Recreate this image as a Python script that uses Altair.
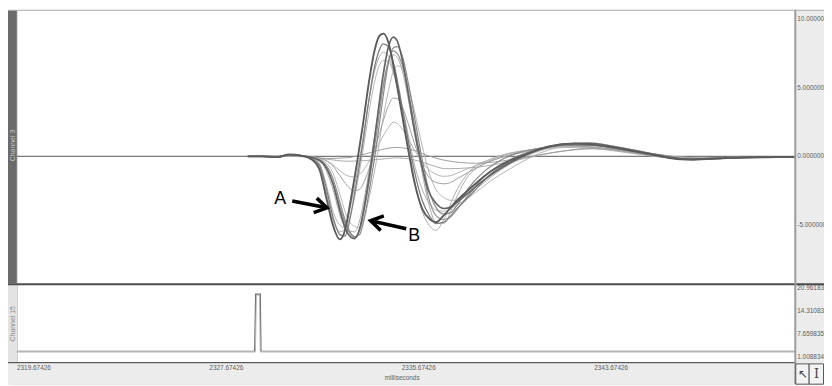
import altair as alt
import pandas as pd

# ---------------- axis ticks and labels ----------------
x_ticks = [2319.67426, 2327.67426, 2335.67426, 2343.67426]
x_tick_labels = ["2319.67426", "2327.67426", "2335.67426", "2343.67426"]
x_title = "milliseconds"
top_ticks = [10, 5, 0, -5]
top_tick_labels = ["10.000000", "5.000000", "0.000000", "-5.000000"]
bot_ticks = [20.961831, 14.310836, 7.659835, 1.008834]
bot_tick_labels = ["20.961831", "14.310836", "7.659835", "1.008834"]
top_channel = "Channel 3"
bot_channel = "Channel 15"

# ---------------- Channel 3 sweeps (ms, mV-like units) ----------------
time_a = [2329.27, 2329.88, 2330.51, 2331.00, 2331.49, 2331.91, 2332.24, 2332.56, 2332.81, 2333.10,
          2333.31, 2333.55, 2333.80, 2334.05, 2334.29, 2334.54, 2334.75, 2334.91, 2335.12, 2335.36,
          2335.61, 2335.94, 2336.19, 2336.52, 2336.85, 2337.09, 2337.42, 2337.92, 2338.54, 2339.36,
          2340.18, 2340.88, 2341.83, 2342.86, 2343.88, 2345.12, 2346.23, 2347.38, 2348.62, 2350.35,
          2352.03]
trace_a1 = [0, 0, -0.05, 0.15, 0.05, -0.2, -0.9, -3.2, -5.0, -6.05, -5.4, -3.2, -0.6, 2.2, 5.2, 7.7,
            8.8, 8.95, 8.3, 6.3, 3.8, 0.5, -1.8, -3.8, -4.6, -4.8, -4.3, -3.3, -2.3, -1.1, -0.3, 0.2,
            0.75, 0.95, 0.8, 0.45, 0.08, -0.22, -0.15, -0.05, -0.05]
trace_a2 = [0, 0, -0.05, 0.12, 0.05, -0.15, -0.6, -2.5, -4.4, -5.7, -5.8, -4.3, -1.8, 0.9, 3.9, 6.5,
            7.8, 8.2, 8.0, 6.6, 4.4, 1.2, -1.0, -3.2, -4.4, -4.9, -4.8, -3.9, -2.8, -1.3, -0.4, 0.15,
            0.7, 0.9, 0.8, 0.45, 0.1, -0.2, -0.15, -0.05, -0.05]
trace_a3 = [0, 0, 0, 0.1, 0.05, -0.15, -0.7, -2.8, -4.6, -5.5, -5.3, -3.6, -1.3, 1.2, 3.9, 6.2,
            7.3, 7.6, 7.3, 6.0, 4.0, 1.0, -1.6, -4.0, -5.1, -5.4, -4.6, -2.6, -1.0, -0.2, 0.25, 0.45,
            0.65, 0.7, 0.6, 0.35, 0.05, -0.15, -0.1, -0.05, -0.05]
trace_a4 = [0, 0, -0.03, 0.1, 0.03, -0.1, -0.5, -2.2, -4.0, -5.0, -5.2, -4.2, -2.2, 0.3, 3.0, 5.4,
            6.7, 7.0, 6.9, 5.9, 4.2, 1.6, -0.5, -2.4, -3.5, -3.9, -4.0, -3.6, -2.9, -1.8, -0.9, -0.2,
            0.5, 0.8, 0.85, 0.55, 0.15, -0.15, -0.15, -0.05, -0.05]

time_b = [2329.27, 2329.89, 2330.51, 2331.00, 2331.49, 2331.99, 2332.40, 2332.81, 2333.14, 2333.39,
          2333.71, 2333.92, 2334.12, 2334.37, 2334.62, 2334.87, 2335.12, 2335.32, 2335.49, 2335.70,
          2335.94, 2336.19, 2336.52, 2336.76, 2337.09, 2337.42, 2337.71, 2338.00, 2338.41, 2339.03,
          2339.77, 2340.59, 2341.41, 2342.44, 2343.47, 2344.50, 2345.73, 2346.76, 2347.79, 2349.02,
          2350.35, 2352.03]
trace_b1 = [0, 0, -0.05, 0.12, 0.05, -0.1, -0.5, -2.0, -4.2, -5.5, -6.0, -5.3, -3.6, -0.9, 2.3, 5.6,
            8.0, 8.7, 8.4, 7.0, 4.6, 2.0, -0.8, -2.4, -3.4, -3.8, -3.7, -3.3, -2.7, -1.8, -0.9, -0.1,
            0.5, 0.9, 0.95, 0.7, 0.3, -0.05, -0.25, -0.15, -0.05, -0.05]
trace_b2 = [0, 0, -0.05, 0.1, 0.05, -0.1, -0.4, -1.6, -3.6, -5.0, -5.85, -5.7, -4.5, -2.0, 0.8, 4.0,
            6.8, 7.9, 8.0, 7.3, 5.4, 3.0, -0.2, -2.2, -3.7, -4.2, -4.1, -3.5, -2.4, -1.2, -0.3, 0.3,
            0.6, 0.8, 0.8, 0.6, 0.25, -0.05, -0.2, -0.15, -0.05, -0.05]
trace_b3 = [0, 0, -0.03, 0.1, 0.04, -0.1, -0.6, -2.4, -4.5, -5.4, -5.5, -4.7, -3.0, -0.5, 2.4, 5.0,
            6.9, 7.4, 7.2, 6.2, 4.2, 1.8, -1.2, -3.2, -4.8, -4.9, -4.0, -2.8, -1.5, -0.6, 0.0, 0.35,
            0.55, 0.7, 0.7, 0.5, 0.2, -0.1, -0.2, -0.1, -0.05, -0.05]
trace_b4 = [0, 0, 0, 0.08, 0.03, -0.05, -0.3, -1.2, -3.0, -4.4, -5.1, -5.2, -4.4, -2.6, -0.3, 2.5,
            4.8, 6.2, 6.6, 6.4, 5.2, 3.4, 0.8, -0.9, -2.4, -3.0, -3.2, -3.2, -2.8, -2.0, -1.0, -0.2,
            0.4, 0.85, 1.0, 0.75, 0.3, 0.0, -0.2, -0.15, -0.05, -0.05]
trace_b5 = [0, 0, -0.05, 0.12, 0.05, -0.12, -0.5, -1.9, -3.9, -5.2, -5.9, -5.4, -3.9, -1.3, 1.6, 4.7,
            7.0, 7.7, 7.5, 6.6, 4.8, 2.4, -0.7, -2.8, -4.3, -4.6, -4.4, -3.8, -2.9, -1.6, -0.6, 0.1,
            0.55, 0.85, 0.85, 0.6, 0.2, -0.1, -0.2, -0.1, -0.05, -0.05]
trace_m1 = [0, 0, 0, 0.05, 0.02, -0.05, -0.2, -0.7, -1.5, -2.1, -2.5, -2.4, -1.8, -0.6, 0.9, 2.4,
            3.7, 4.25, 4.2, 3.6, 2.4, 1.0, -0.6, -1.4, -1.9, -2.0, -1.9, -1.6, -1.2, -0.6, -0.1, 0.3,
            0.6, 0.8, 0.7, 0.45, 0.15, -0.1, -0.15, -0.1, -0.05, -0.05]
trace_m2 = [0, 0, 0, 0.05, 0.02, -0.05, -0.2, -0.6, -1.1, -1.4, -1.5, -1.3, -0.9, -0.2, 0.6, 1.4,
            2.1, 2.5, 2.4, 2.0, 1.3, 0.5, -0.4, -0.9, -1.3, -1.45, -1.4, -1.2, -0.9, -0.5, -0.1, 0.25,
            0.5, 0.65, 0.6, 0.4, 0.1, -0.1, -0.15, -0.1, -0.05, -0.05]

time_f = [2329.27, 2329.89, 2331.33, 2332.56, 2333.39, 2334.21, 2334.83, 2335.45, 2336.06, 2336.68,
          2337.51, 2338.74, 2340.39, 2342.03, 2343.68, 2345.32, 2346.97, 2348.62, 2352.03]
trace_f1 = [0, 0, 0.05, -0.15, -0.1, 0.2, 0.5, 0.65, 0.5, 0.1, -0.3, -0.5, -0.2, 0.3, 0.6, 0.4, 0.0,
            -0.15, -0.05]
trace_f2 = [0, 0, 0, -0.2, -0.35, -0.3, -0.2, -0.1, -0.2, -0.5, -0.9, -0.8, -0.3, 0.3, 0.55, 0.35,
            0.0, -0.15, -0.05]

# ---------------- Channel 15 (stimulus) ----------------
stim_time = [2319.67426, 2329.56, 2329.60, 2329.79, 2329.82, 2352.03]
stim_value = [2.54, 2.54, 19.3, 19.3, 2.54, 2.54]
stim2_time = [2319.67426, 2329.59, 2329.63, 2329.76, 2329.79, 2352.03]
stim2_value = [2.54, 2.54, 19.0, 19.0, 2.54, 2.54]

# ---------------- annotations ----------------
label_text = ["A", "B"]
label_time = [2330.62, 2336.19]
label_value = [-3.10, -5.78]
arrow_from_time = [2331.12, 2335.86]
arrow_from_value = [-3.25, -5.27]
arrow_to_time = [2332.56, 2334.38]
arrow_to_value = [-3.75, -4.69]

# ---------------- styling ----------------
FONT = "Liberation Sans"
LABEL_GREY = "#5e5e5e"
x_scale = alt.Scale(domain=[2319.67426, 2352.033], range=[9, 795], nice=False, zero=False)
y_top = alt.Scale(domain=[-9.242, 10.686], range=[276, 0], nice=False, zero=False)
y_bot = alt.Scale(domain=[-0.64, 21.93], range=[356, 278], nice=False, zero=False)

one = pd.DataFrame({"k": [0]})
layers = []


def rect(x0, x1, y0, y1, fill, stroke=None, sw=0):
    kw = dict(fill=fill)
    if stroke:
        kw.update(stroke=stroke, strokeWidth=sw)
    layers.append(
        alt.Chart(one).mark_rect(**kw).encode(
            x=alt.value(x0), x2=alt.value(x1), y=alt.value(y0), y2=alt.value(y1)
        )
    )


def deco_text(txt, x, y, size, color, angle=0, font=FONT, align="center"):
    kw = dict(text=txt, fontSize=size, color=color, font=font, align=align, baseline="middle")
    if angle:
        kw["angle"] = angle
    layers.append(alt.Chart(one).mark_text(**kw).encode(x=alt.value(x), y=alt.value(y)))


# backgrounds / frame
rect(0, 824, 0, 378, "#ffffff")
rect(795, 824, 0, 357, "#ececec")
rect(0, 795, 357, 378, "#ececec")
rect(0, 824, 0, 1.2, "#bdbdbd")
rect(0, 9, 1, 276, "#6b6b6b")
rect(9, 10, 1, 276, "#d9d9d9")
rect(0, 9, 278, 356, "#e3e3e3")
rect(9, 10, 278, 356, "#cfcfcf")
deco_text(top_channel, 4.8, 137, 7, "#c4c4c4", angle=270)
deco_text(bot_channel, 4.8, 317, 7, "#8a8a8a", angle=270)

# zero reference line of channel 3
zero_df = pd.DataFrame({"t": [2319.67426, 2352.033], "v": [0, 0]})
layers.append(
    alt.Chart(zero_df).mark_line(color="#7a7a7a", strokeWidth=1.4).encode(
        x=alt.X("t:Q", scale=x_scale, axis=None), y=alt.Y("v:Q", scale=y_top, axis=None)
    )
)

traces = [
    (time_a, trace_a3, "#ababab", 1.0),
    (time_a, trace_a4, "#b3b3b3", 1.0),
    (time_b, trace_b3, "#acacac", 1.0),
    (time_b, trace_b4, "#b6b6b6", 1.0),
    (time_b, trace_m2, "#b4b4b4", 1.0),
    (time_f, trace_f2, "#ababab", 1.0),
    (time_f, trace_f1, "#9d9d9d", 1.0),
    (time_b, trace_m1, "#a0a0a0", 1.0),
    (time_b, trace_b5, "#929292", 1.2),
    (time_b, trace_b2, "#888888", 1.2),
    (time_a, trace_a2, "#7f7f7f", 1.3),
    (time_b, trace_b1, "#656565", 1.7),
    (time_a, trace_a1, "#5b5b5b", 1.9),
]
for t, v, col, w in traces:
    df = pd.DataFrame({"t": t, "v": v})
    layers.append(
        alt.Chart(df).mark_line(color=col, strokeWidth=w, interpolate="monotone").encode(
            x=alt.X("t:Q", scale=x_scale, axis=None), y=alt.Y("v:Q", scale=y_top, axis=None)
        )
    )

# stimulus channel
for t, v, col, w in [(stim_time, stim_value, "#6a6a6a", 1.3), (stim2_time, stim2_value, "#b8b8b8", 1.0)]:
    df = pd.DataFrame({"t": t, "v": v})
    layers.append(
        alt.Chart(df).mark_line(color=col, strokeWidth=w).encode(
            x=alt.X("t:Q", scale=x_scale, axis=None), y=alt.Y("v:Q", scale=y_bot, axis=None)
        )
    )

# separators drawn over the plots
rect(0, 824, 276, 278, "#4d4d4d")
rect(0, 795, 355.6, 357, "#5a5a5a")
rect(794, 796, 0, 378, "#9c9c9c")
rect(795.5, 809, 357.5, 378, "#f3f3f3", stroke="#555555", sw=1)
rect(809, 823.5, 357.5, 378, "#f3f3f3", stroke="#555555", sw=1)
deco_text("\u2196", 802.5, 367.5, 12, "#444444", font="DejaVu Sans")
deco_text("I", 816.5, 367.5, 13, "#444444", font="DejaVu Serif")

# annotations A / B
ann = pd.DataFrame({
    "t0": arrow_from_time, "v0": arrow_from_value,
    "t1": arrow_to_time, "v1": arrow_to_value,
})
layers.append(
    alt.Chart(ann).mark_rule(color="black", strokeWidth=3.6, strokeCap="butt").encode(
        x=alt.X("t0:Q", scale=x_scale, axis=None), x2="t1:Q",
        y=alt.Y("v0:Q", scale=y_top, axis=None), y2="v1:Q",
    )
)
chevron = "M -1.6 -1 L 0 0 L -1.6 1"
for i, ang in [(0, 12), (1, 192)]:
    head = pd.DataFrame({"t": [arrow_to_time[i]], "v": [arrow_to_value[i]]})
    layers.append(
        alt.Chart(head).mark_point(shape=chevron, filled=False, stroke="black", strokeWidth=3.6,
                                   size=225, angle=ang, opacity=1, strokeJoin="miter").encode(
            x=alt.X("t:Q", scale=x_scale, axis=None), y=alt.Y("v:Q", scale=y_top, axis=None)
        )
    )
lab = pd.DataFrame({"t": label_time, "v": label_value, "s": label_text})
layers.append(
    alt.Chart(lab).mark_text(font=FONT, fontSize=18, color="black", baseline="middle").encode(
        x=alt.X("t:Q", scale=x_scale, axis=None), y=alt.Y("v:Q", scale=y_top, axis=None), text="s:N"
    )
)

# tick labels
top_lab = pd.DataFrame({"v": top_ticks, "s": top_tick_labels})
layers.append(
    alt.Chart(top_lab).mark_text(font=FONT, fontSize=6.5, color=LABEL_GREY, align="left",
                                 baseline="middle").encode(
        x=alt.value(797), y=alt.Y("v:Q", scale=y_top, axis=None), text="s:N"
    )
)
bot_lab = pd.DataFrame({"v": bot_ticks, "s": bot_tick_labels})
layers.append(
    alt.Chart(bot_lab).mark_text(font=FONT, fontSize=6.5, color=LABEL_GREY, align="left",
                                 baseline="middle").encode(
        x=alt.value(797), y=alt.Y("v:Q", scale=y_bot, axis=None), text="s:N"
    )
)
x_lab = pd.DataFrame({"t": x_ticks, "s": x_tick_labels})
layers.append(
    alt.Chart(x_lab).mark_text(font=FONT, fontSize=6.5, color=LABEL_GREY, align="left",
                               baseline="middle").encode(
        x=alt.X("t:Q", scale=x_scale, axis=None), y=alt.value(361.5), text="s:N"
    )
)
deco_text(x_title, 398, 372, 6.5, LABEL_GREY)

chart = (
    alt.layer(*layers)
    .resolve_scale(y="independent")
    .properties(width=824, height=378, autosize=alt.AutoSizeParams(type="none"), padding=0)
    .configure_view(strokeWidth=0)
    .configure(background="white")
)
chart.save("out.html", embed_options={"renderer": "svg", "actions": False})
